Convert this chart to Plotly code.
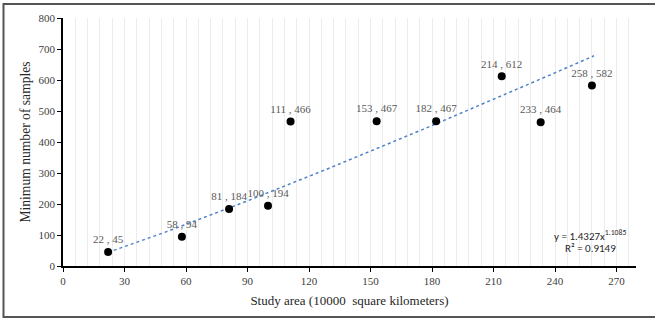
import numpy as np
import plotly.graph_objects as go

# Data
area = [22, 58, 81, 100, 111, 153, 182, 214, 233, 258]
samples = [45, 94, 184, 194, 466, 467, 467, 612, 464, 582]
labels = [f"{a} , {s}" for a, s in zip(area, samples)]

# Power trendline coefficients (as displayed on chart)
coef_a = 1.4327
coef_b = 1.1085
r2_text = "0.9149"

x_ticks = [0, 30, 60, 90, 120, 150, 180, 210, 240, 270]
y_ticks = [0, 100, 200, 300, 400, 500, 600, 700, 800]

W, H = 655, 320
ml, mr, mt, mb = 63, 19, 18, 54
pw, ph = W - ml - mr, H - mt - mb

serif = "Liberation Serif, Times New Roman, serif"
sans = "Carlito, Liberation Sans, Arial, sans-serif"

fig = go.Figure()

# trendline
tx = np.linspace(min(area), max(area) + 1, 200)
ty = coef_a * tx ** coef_b
fig.add_trace(go.Scatter(x=tx, y=ty, mode="lines",
                         line=dict(color="#4f81c7", width=1.5, dash="dot"),
                         hoverinfo="skip", showlegend=False))

fig.add_trace(go.Scatter(x=area, y=samples, mode="markers+text",
                         text=labels, textposition="top center",
                         textfont=dict(family=serif, size=11, color="#595959"),
                         marker=dict(color="black", size=8),
                         showlegend=False))

def px_x(p):
    return (p - ml) / pw

def px_y(p):
    return (H - mb - p) / ph

shapes = [
    dict(type="rect", xref="paper", yref="paper",
         x0=px_x(3.5), x1=px_x(660), y0=px_y(4), y1=px_y(317),
         line=dict(color="#555555", width=2), fillcolor="rgba(0,0,0,0)", layer="below"),
]

fig.update_layout(
    width=W, height=H,
    margin=dict(l=ml, r=mr, t=mt, b=mb, autoexpand=False),
    paper_bgcolor="white", plot_bgcolor="white",
    shapes=shapes,
    xaxis=dict(range=[0, 279.5], tickvals=x_ticks, ticks="outside", ticklen=4,
               tickcolor="black", showline=True, linecolor="black", linewidth=1.5,
               showgrid=False, zeroline=False, automargin=False,
               minor=dict(dtick=6, tick0=0, showgrid=True, gridcolor="#ececec", gridwidth=1),
               tickfont=dict(family=serif, size=11, color="#404040"),
               title=dict(text="Study area (10000  square kilometers)",
                          font=dict(family=serif, size=13, color="#262626"), standoff=10)),
    yaxis=dict(range=[0, 800], tickvals=y_ticks, ticks="outside", ticklen=4,
               tickcolor="black", showline=True, linecolor="black", linewidth=1.5,
               showgrid=False, zeroline=False, automargin=False,
               tickfont=dict(family=serif, size=11, color="#404040"),
               title=dict(text="Minimum number of samples",
                          font=dict(family=serif, size=13.6, color="#262626"), standoff=5)),
    annotations=[
        dict(xref="paper", yref="paper", x=px_x(590), y=px_y(235),
             text=f"y = {coef_a}x<sup>{coef_b}</sup>", showarrow=False,
             font=dict(family=sans, size=11, color="#262626"), xanchor="center", yanchor="middle"),
        dict(xref="paper", yref="paper", x=px_x(590), y=px_y(248),
             text=f"R² = {r2_text}", showarrow=False,
             font=dict(family=sans, size=11, color="#262626"), xanchor="center", yanchor="middle"),
    ],
)

fig.write_html("out.html", config={"displayModeBar": False},
               post_script="document.body.style.margin='0';document.body.style.padding='0';")
